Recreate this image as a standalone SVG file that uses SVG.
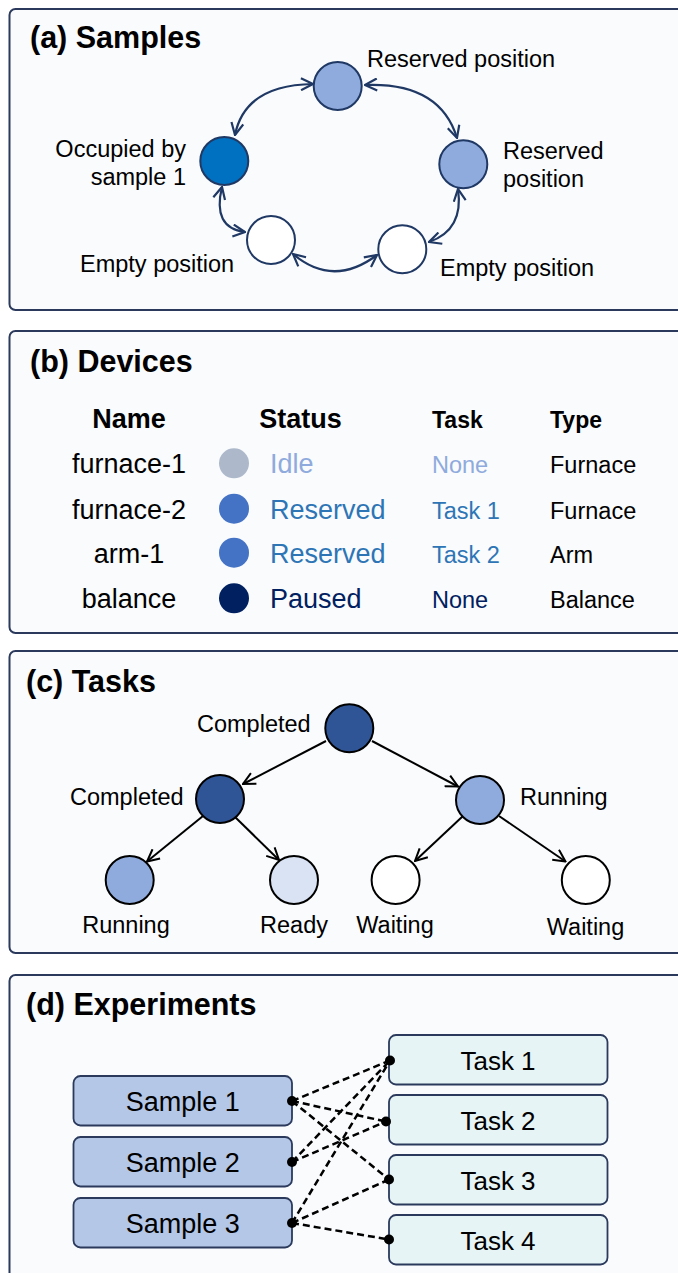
<svg xmlns="http://www.w3.org/2000/svg" width="678" height="1273" viewBox="0 0 678 1273">
<defs>
<style>
text{font-family:"Liberation Sans",Arial,sans-serif;fill:#000}
.panel{fill:#f9fbfd;stroke:#2b3a5c;stroke-width:2}
.title{font-weight:bold;font-size:30.5px}
.lbl{font-size:23.5px}
.pos{stroke:#1f3864;stroke-width:2}
.cyc{fill:none;stroke:#1f3864;stroke-width:2.2;marker-start:url(#na);marker-end:url(#na)}
.tn{stroke:#000;stroke-width:2}
.te{fill:none;stroke:#000;stroke-width:2;marker-end:url(#ba)}
.hdr{font-weight:bold}
.nm{font-size:27px;text-anchor:middle}
.st{font-size:27px}
.tk{font-size:23.5px}
.samp{fill:#b4c7e7;stroke:#2b3a5c;stroke-width:1.8}
.task{fill:#e6f4f5;stroke:#2b3a5c;stroke-width:1.8}
.box{font-size:27px;text-anchor:middle}
.tbox{font-size:26px;text-anchor:middle}
.dash{fill:none;stroke:#000;stroke-width:2.5;stroke-dasharray:7 4}
.dot{fill:#000}
</style>
<marker id="na" viewBox="0 0 14 14" refX="13" refY="7" markerWidth="14" markerHeight="14" markerUnits="userSpaceOnUse" orient="auto-start-reverse">
<path d="M1,1 L13,7 L1,13" fill="none" stroke="#1f3864" stroke-width="2.2"/>
</marker>
<marker id="ba" viewBox="0 0 14 14" refX="13" refY="7" markerWidth="14" markerHeight="14" markerUnits="userSpaceOnUse" orient="auto">
<path d="M1,1 L13,7 L1,13" fill="none" stroke="#000" stroke-width="2"/>
</marker>
</defs>
<rect width="678" height="1273" fill="#ffffff"/>

<!-- Panel (a) -->
<g id="panel-a">
<rect class="panel" x="9.5" y="9" width="690" height="301" rx="6"/>
<text class="title" x="30" y="48">(a) Samples</text>
</g>
<g id="connectors-a">
<path class="cyc" d="M313,84 Q245,85 235,135"/>
<path class="cyc" d="M365,85 Q440,82 457,138"/>
<path class="cyc" d="M222,187 Q212,228 245,232"/>
<path class="cyc" d="M293,254 Q333,288 377,255"/>
<path class="cyc" d="M458,189 Q464,230 429,242"/>
</g>
<g id="pos-top"><circle class="pos" cx="337.7" cy="86" r="24" fill="#8faadc"/><text class="lbl" x="367" y="67">Reserved position</text></g>
<g id="pos-occupied"><circle class="pos" cx="224.3" cy="161" r="24" fill="#0070c0"/><text class="lbl" x="186" y="157" text-anchor="end">Occupied by</text><text class="lbl" x="186" y="185" text-anchor="end">sample 1</text></g>
<g id="pos-right"><circle class="pos" cx="463.3" cy="164.3" r="24" fill="#8faadc"/><text class="lbl" x="503" y="159">Reserved</text><text class="lbl" x="503" y="186.5">position</text></g>
<g id="pos-empty-left"><circle class="pos" cx="271" cy="240" r="24" fill="#ffffff"/><text class="lbl" x="80" y="272">Empty position</text></g>
<g id="pos-empty-right"><circle class="pos" cx="402.3" cy="249.3" r="24" fill="#ffffff"/><text class="lbl" x="440" y="276">Empty position</text></g>

<!-- Panel (b) -->
<g id="panel-b">
<rect class="panel" x="9.5" y="331" width="690" height="302" rx="6"/>
<text class="title" x="30" y="372">(b) Devices</text>
<text class="hdr nm" x="129" y="428">Name</text>
<text class="hdr st" x="300.5" y="428" text-anchor="middle">Status</text>
<text class="hdr" x="432" y="428" font-size="23">Task</text>
<text class="hdr" x="550" y="428" font-size="23">Type</text>
</g>
<g id="dev-furnace-1">
<text class="nm" x="129" y="473">furnace-1</text>
<circle cx="234" cy="463.3" r="15" fill="#adb9ca"/>
<text class="st" x="270" y="473" style="fill:#8faadc">Idle</text>
<text class="tk" x="432" y="473" style="fill:#8faadc">None</text>
<text class="tk" x="550" y="473">Furnace</text>
</g>
<g id="dev-furnace-2">
<text class="nm" x="129" y="518.5">furnace-2</text>
<circle cx="234" cy="508.7" r="15" fill="#4472c4"/>
<text class="st" x="270" y="518.5" style="fill:#2e75b6">Reserved</text>
<text class="tk" x="432" y="518.5" style="fill:#2e75b6">Task 1</text>
<text class="tk" x="550" y="518.5">Furnace</text>
</g>
<g id="dev-arm-1">
<text class="nm" x="129" y="563">arm-1</text>
<circle cx="234" cy="552.7" r="15" fill="#4472c4"/>
<text class="st" x="270" y="563" style="fill:#2e75b6">Reserved</text>
<text class="tk" x="432" y="563" style="fill:#2e75b6">Task 2</text>
<text class="tk" x="550" y="563">Arm</text>
</g>
<g id="dev-balance">
<text class="nm" x="129" y="607.5">balance</text>
<circle cx="234" cy="598.3" r="15" fill="#002060"/>
<text class="st" x="270" y="607.5" style="fill:#002060">Paused</text>
<text class="tk" x="432" y="607.5" style="fill:#002060">None</text>
<text class="tk" x="550" y="607.5">Balance</text>
</g>

<!-- Panel (c) -->
<g id="panel-c">
<rect class="panel" x="9.5" y="651" width="690" height="302" rx="6"/>
<text class="title" x="26" y="692">(c) Tasks</text>
</g>
<g id="connectors-c">
<line class="te" x1="326" y1="741" x2="243" y2="784"/>
<line class="te" x1="372" y1="741" x2="458" y2="786.5"/>
<line class="te" x1="203" y1="816" x2="147" y2="861.5"/>
<line class="te" x1="235" y1="817" x2="279" y2="860"/>
<line class="te" x1="463" y1="816" x2="415" y2="861"/>
<line class="te" x1="499" y1="816" x2="565.5" y2="861.5"/>
</g>
<g id="task-root"><circle class="tn" cx="349.3" cy="728.3" r="24" fill="#2f5597"/><text class="lbl" x="197" y="732">Completed</text></g>
<g id="task-left"><circle class="tn" cx="220" cy="799" r="24" fill="#2f5597"/><text class="lbl" x="70" y="805">Completed</text></g>
<g id="task-right"><circle class="tn" cx="480" cy="800" r="24" fill="#8faadc"/><text class="lbl" x="520" y="805">Running</text></g>
<g id="task-leaf1"><circle class="tn" cx="129.7" cy="880" r="24" fill="#8faadc"/><text class="lbl" x="126" y="932.5" text-anchor="middle">Running</text></g>
<g id="task-leaf2"><circle class="tn" cx="294" cy="880" r="24" fill="#dae3f3"/><text class="lbl" x="294" y="932.5" text-anchor="middle">Ready</text></g>
<g id="task-leaf3"><circle class="tn" cx="395.6" cy="880" r="24" fill="#ffffff"/><text class="lbl" x="395" y="932.5" text-anchor="middle">Waiting</text></g>
<g id="task-leaf4"><circle class="tn" cx="585.8" cy="880" r="24" fill="#ffffff"/><text class="lbl" x="585.5" y="934.5" text-anchor="middle">Waiting</text></g>

<!-- Panel (d) -->
<g id="panel-d">
<rect class="panel" x="9.5" y="975" width="690" height="320" rx="6"/>
<text class="title" x="26" y="1015">(d) Experiments</text>
</g>
<g id="sample-1"><rect class="samp" x="73.5" y="1076" width="218.5" height="49.5" rx="7"/><text class="box" x="182.7" y="1110.5">Sample 1</text></g>
<g id="sample-2"><rect class="samp" x="73.5" y="1137" width="218.5" height="49.5" rx="7"/><text class="box" x="182.7" y="1171.5">Sample 2</text></g>
<g id="sample-3"><rect class="samp" x="73.5" y="1198" width="218.5" height="49.5" rx="7"/><text class="box" x="182.7" y="1232.5">Sample 3</text></g>
<g id="task-1"><rect class="task" x="389" y="1035" width="218.5" height="49.5" rx="7"/><text class="tbox" x="498" y="1069.5">Task 1</text></g>
<g id="task-2"><rect class="task" x="389" y="1095" width="218.5" height="49.5" rx="7"/><text class="tbox" x="498" y="1129.5">Task 2</text></g>
<g id="task-3"><rect class="task" x="389" y="1155" width="218.5" height="49.5" rx="7"/><text class="tbox" x="498" y="1189.5">Task 3</text></g>
<g id="task-4"><rect class="task" x="389" y="1215" width="218.5" height="49.5" rx="7"/><text class="tbox" x="498" y="1249.5">Task 4</text></g>
<g id="connectors-d">
<line class="dash" x1="292" y1="1101" x2="390" y2="1060.5"/>
<line class="dash" x1="292" y1="1101" x2="386" y2="1121.5"/>
<line class="dash" x1="292" y1="1101" x2="389" y2="1179.5"/>
<line class="dash" x1="292" y1="1162" x2="390" y2="1060.5"/>
<line class="dash" x1="292" y1="1162" x2="386" y2="1121.5"/>
<line class="dash" x1="292" y1="1223" x2="390" y2="1060.5"/>
<line class="dash" x1="292" y1="1223" x2="389" y2="1179.5"/>
<line class="dash" x1="292" y1="1223" x2="389" y2="1239.5"/>
<circle class="dot" cx="292" cy="1101" r="5"/>
<circle class="dot" cx="292" cy="1162" r="5"/>
<circle class="dot" cx="292" cy="1223" r="5"/>
<circle class="dot" cx="390" cy="1060.5" r="5"/>
<circle class="dot" cx="386" cy="1121.5" r="5"/>
<circle class="dot" cx="389" cy="1179.5" r="5"/>
<circle class="dot" cx="389" cy="1239.5" r="5"/>
</g>
</svg>
